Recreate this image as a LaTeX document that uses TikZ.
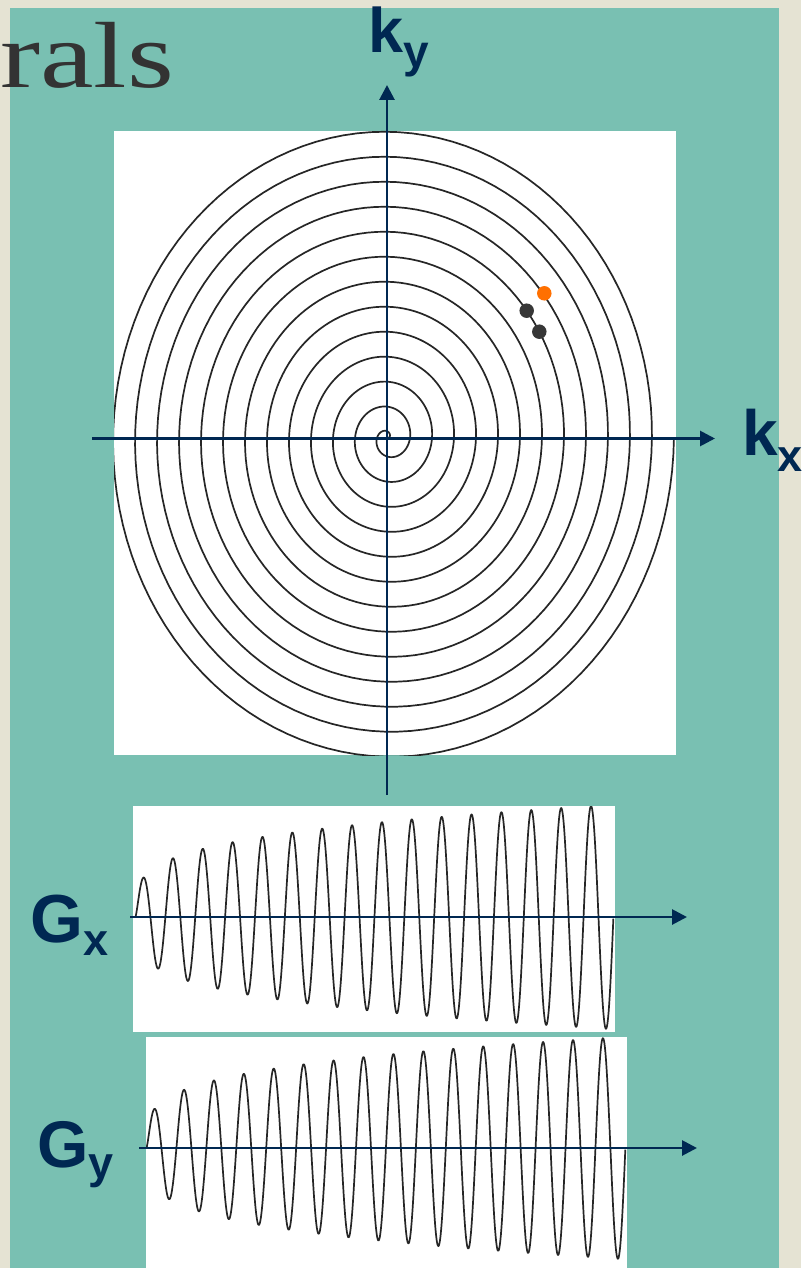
\documentclass[tikz,border=0pt]{standalone}
\usepackage{fontspec}
\setmainfont{Liberation Serif}
\newfontfamily\labfont{Liberation Sans}
\usetikzlibrary{arrows.meta}
\definecolor{bgbeige}{RGB}{229,227,211}
\definecolor{panelteal}{RGB}{121,192,178}
\definecolor{axnavy}{RGB}{0,40,82}
\definecolor{dotorange}{RGB}{255,112,0}
\definecolor{dotgray}{RGB}{55,55,55}
\definecolor{titlegray}{RGB}{51,51,51}
\begin{document}
\begin{tikzpicture}[x=1pt,y=-1pt,
  axisarrow/.style={axnavy, line width=2.8pt, -{Triangle[length=15pt,width=15pt]}},
  plotbox/.style={fill=white},
  trace/.style={black!85, line width=1.7pt, line join=round},
  lab/.style={text=axnavy, inner sep=0pt, anchor=base west},
  kdot/.style={circle, inner sep=0pt, minimum size=14.5pt}
]
\useasboundingbox (0,0) rectangle (801,1268);
% background and panel
\fill[bgbeige] (0,0) rectangle (801,1268);
\fill[panelteal] (10,8) rectangle (779,1268);
% title fragment
\node[anchor=base east, inner sep=0pt, text=titlegray, font=\fontsize{94}{94}\selectfont] (title) at (174,88) {\scalebox{1.28}[1]{rals}};
% white plot boxes
\fill[plotbox] (114,131) rectangle (676,755);
\fill[plotbox] (133,806) rectangle (615,1032);
\fill[plotbox] (146,1037) rectangle (627,1268);
% spiral
\begin{scope}
\clip (114,131) rectangle (676,755);
\draw[trace] plot[variable=\t, domain=0:4680, samples=1600] ({388+22/360*\t*cos(\t)}, {438-25/360*\t*sin(\t)});
\end{scope}
% sample points
\node[kdot, fill=dotorange] (p1) at (544.3,293.3) {};
\node[kdot, fill=dotgray] (p2) at (526.7,310.7) {};
\node[kdot, fill=dotgray] (p3) at (539.3,331.7) {};
% k-space axes
\coordinate (kyS) at (387,795);
\coordinate (kyE) at (387,85);
\coordinate (kxS) at (92,438.5);
\coordinate (kxE) at (715,438.5);
\draw[axisarrow] (kyS) -- (kyE);
\draw[axisarrow] (kxS) -- (kxE);
% gradient waveforms
\begin{scope}
\clip (133,806) rectangle (615,1032);
\draw[trace] plot[variable=\t, domain=0.002:16, samples=1100] ({135.5+29.87*\t}, {917-55.5*(\t)^0.254*sin(360*\t)});
\end{scope}
\begin{scope}
\clip (146,1037) rectangle (627,1268);
\draw[trace] plot[variable=\t, domain=0.002:16, samples=1100] ({146.5+29.93*\t}, {1148-55*(\t)^0.254*sin(360*\t)});
\end{scope}
\coordinate (gxS) at (130,917);
\coordinate (gxE) at (687,917);
\coordinate (gyS) at (139,1148);
\coordinate (gyE) at (697,1148);
\draw[axisarrow] (gxS) -- (gxE);
\draw[axisarrow] (gyS) -- (gyE);
% labels
\node[lab, font=\labfont\bfseries\fontsize{63}{63}\selectfont] (ky) at (368,53) {k\raisebox{-15pt}{\fontsize{46}{46}\selectfont y}};
\node[lab, font=\labfont\bfseries\fontsize{64}{64}\selectfont] (kx) at (742,455) {k\raisebox{-16pt}{\fontsize{45}{45}\selectfont x}};
\node[lab, font=\labfont\bfseries\fontsize{68}{68}\selectfont] (gx) at (30,942) {G\raisebox{-13pt}{\fontsize{45}{45}\selectfont x}};
\node[lab, font=\labfont\bfseries\fontsize{66}{66}\selectfont] (gy) at (37,1167) {G\raisebox{-11.5pt}{\fontsize{45}{45}\selectfont y}};
\end{tikzpicture}
\end{document}
